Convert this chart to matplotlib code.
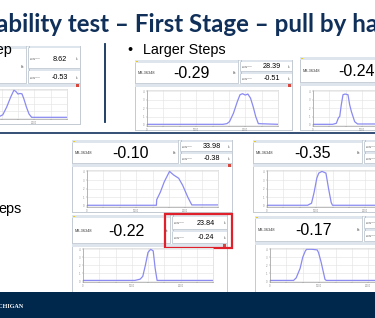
import matplotlib.pyplot as plt
from matplotlib.patches import Rectangle

# slide text
title = "Stability test – First Stage – pull by hand"
left_heading = "Step"
right_heading = "Larger Steps"
mid_heading = "eps"
footer = "MICHIGAN"
device = "M3-36348"

# readings shown in each captured panel (A..G)
main_vals = ["", "-0.29", "-0.24", "-0.10", "-0.35", "-0.22", "-0.17"]
box_top_vals = ["8.62", "28.39", "", "33.98", "", "23.84", ""]
box_bot_vals = ["-0.53", "-0.51", "", "-0.38", "", "-0.24", ""]

# force traces, x in % of plot width, y in % of plot height
trace_a_x = [0, 44, 48, 51, 54, 57, 59.5, 61, 62.6, 64, 65.6, 67, 69, 71, 73, 100]
trace_a_y = [2, 2, 5, 12, 40, 75, 100, 95, 86, 88, 87, 70, 40, 15, 3, 3]
trace_b_x = [0, 58, 61, 63, 66, 69, 71, 73, 75, 77, 79, 81, 83, 85, 100]
trace_b_y = [2, 2, 4, 10, 35, 70, 90, 93, 89, 92, 80, 55, 25, 4, 2]
trace_c_x = [0, 15, 17.8, 19.5, 20.4, 21.6, 22.9, 24.5, 26.7, 28, 29.3, 31.8, 34, 100]
trace_c_y = [2, 2, 5, 22, 25, 60, 90, 92, 90, 60, 40, 10, 3, 3]
trace_d_x = [0, 53, 53.2, 56, 59, 63, 66, 70, 73, 77, 80, 100]
trace_d_y = [2, 2, 18, 40, 70, 100, 90, 80, 60, 25, 3, 3]
trace_e_x = [0, 31, 34, 36, 38, 39.5, 42, 45, 47, 49, 50, 100]
trace_e_y = [2, 2, 8, 40, 80, 95, 100, 95, 50, 10, 2, 2]
trace_f_x = [0, 40, 44, 46, 48, 50, 52, 54, 55.5, 57, 100]
trace_f_y = [2, 2, 6, 15, 50, 90, 100, 95, 40, 2, 2]
trace_g_x = [0, 18, 20, 23, 25, 27, 28, 32, 36, 37, 39, 42, 43, 100]
trace_g_y = [2, 2, 10, 40, 75, 95, 100, 100, 98, 90, 60, 5, 2, 2]

traces = [(trace_a_x, trace_a_y), (trace_b_x, trace_b_y), (trace_c_x, trace_c_y),
          (trace_d_x, trace_d_y), (trace_e_x, trace_e_y), (trace_f_x, trace_f_y),
          (trace_g_x, trace_g_y)]

# panel layout in pixels: x0, y0, w, h, header height, main box width, box split
layout = [
    (-76, 46, 156, 78, 37, 102, 0.6),
    (135, 60, 157, 70, 23, 103, 0.5),
    (300, 57, 157, 73, 25, 103, 0.5),
    (72, 140, 160, 72, 23, 106, 0.5),
    (253, 140, 160, 72, 23, 109, 0.5),
    (72, 215, 155, 80, 28, 98, 0.5),
    (255, 216, 160, 80, 25, 107, 0.5),
]
# plot boxes (left, top, right, bottom) in pixels
plot_boxes = [
    (-64, 89, 67, 119),
    (147, 90, 278, 126),
    (313, 90, 444, 126),
    (87, 170, 218, 207),
    (267, 170, 398, 207),
    (83, 248, 213, 282),
    (270, 248, 401, 282),
]

W, H = 375, 318
NAVY = "#10305a"
EDGE = "#b3bcc6"
STRIP = "#dfe5ec"
LINE = "#8a8af2"

fig = plt.figure(figsize=(W / 100, H / 100), dpi=100)
bg = fig.add_axes([0, 0, 1, 1])
bg.set_xlim(0, W)
bg.set_ylim(H, 0)
bg.axis("off")


def rect(x, y, w, h, fc="white", ec=EDGE, lw=0.5, z=1):
    bg.add_patch(Rectangle((x, y), w, h, facecolor=fc, edgecolor=ec, lw=lw, zorder=z))


def draw_panel(i):
    x0, y0, w, h, hh, mw, split = layout[i]
    rect(x0, y0, w, h, ec="#c9d0d8")
    # main reading box
    rect(x0, y0, mw, hh)
    rect(x0, y0, mw, 2.5, fc=STRIP, ec="none")
    rect(x0 + 1, y0 + 0.5, 1.5, 1.5, fc="#f0cc1a", ec="none", z=2)
    bg.text(x0 + 3, y0 + hh * 0.56, device, fontsize=2.8, color="#333",
            va="center", family="Liberation Sans", zorder=3)
    if main_vals[i]:
        bg.text(x0 + mw * 0.55, y0 + hh * 0.58, main_vals[i], fontsize=11.5,
                ha="center", va="center", family="Liberation Sans", zorder=3)
    bg.text(x0 + mw - 4, y0 + hh * 0.56, "kt", fontsize=2.5, color="#333",
            ha="center", va="center", zorder=3)
    # two small boxes
    bx = x0 + mw + 1.5
    bw = w - mw - 1.5
    h1 = hh * split
    for j, (by, bh, val) in enumerate([(y0, h1 - 0.5, box_top_vals[i]),
                                       (y0 + h1 + 0.5, hh - h1 - 0.5, box_bot_vals[i])]):
        rect(bx, by, bw, bh)
        rect(bx, by, bw, 2.2, fc=STRIP, ec="none")
        rect(bx + 1, by + 0.4, 1.4, 1.4, fc="#f0cc1a", ec="none", z=2)
        bg.text(bx + 2, by + bh * 0.62, "Load cell\nvalue", fontsize=1.6,
                color="#555", va="center", linespacing=1.0, zorder=3)
        if val:
            bg.text(bx + bw * 0.62, by + bh * 0.62, val, fontsize=5.2,
                    ha="center", va="center", family="Liberation Sans", zorder=3)
        bg.text(bx + bw - 2.5, by + bh * 0.62, "kt", fontsize=1.8, color="#555",
                ha="center", va="center", zorder=3)
    # graph window
    gy = y0 + hh + 1
    rect(x0, gy, w, h - hh - 1)
    rect(x0, gy, w, 3, fc=STRIP, ec="none")
    rect(x0 + w - 4, gy + 0.3, 3.4, 2.4, fc="#d8463c", ec="none", z=2)

    l, t, r, b = plot_boxes[i]
    ax = fig.add_axes([l / W, 1 - b / H, (r - l) / W, (b - t) / H])
    xs, ys = traces[i]
    ax.plot(xs, ys, color=LINE, lw=0.9)
    ax.set_xlim(0, 100)
    ax.set_ylim(-3, 104)
    ax.set_xticks([0, 12.5, 25, 37.5, 50, 62.5, 75, 87.5, 100])
    ax.set_yticks([0, 25, 50, 75, 100])
    ax.set_xticklabels(["0", "", "", "1000", "", "", "2000", "", ""])
    ax.set_yticklabels(["0", "1", "2", "3", "4"])
    ax.tick_params(labelsize=1.8, colors="#888", length=0.8, width=0.3, pad=0.8)
    ax.grid(color="#e2e2e2", lw=0.4)
    for s in ax.spines.values():
        s.set_linewidth(0.4)
        s.set_color("#d0d0d0")
    ax.spines["left"].set_color("#8a8a8a")
    ax.spines["bottom"].set_color("#8a8a8a")


for i in range(len(layout)):
    draw_panel(i)

# title and headings
bg.text(-26, 32, title, fontsize=17.4, fontweight="bold", color=NAVY,
        family="Lato", va="baseline")
bg.text(12, 54, left_heading, fontsize=10.4, ha="right", va="baseline",
        family="Liberation Sans")
bg.text(127, 54, "•", fontsize=10.4, va="baseline", family="Liberation Sans")
bg.text(143, 54, right_heading, fontsize=10.4, va="baseline",
        family="Liberation Sans")
bg.text(22, 213, mid_heading, fontsize=10.4, ha="right", va="baseline",
        family="Liberation Sans")

# dividers
bg.plot([105, 105], [44, 122], color=NAVY, lw=1.3, zorder=4)
bg.plot([0, W], [133, 133], color="#24416a", lw=1.3, zorder=4)

# highlight box
rect(165, 214, 67, 34, fc="none", ec="#e0202a", lw=1.6, z=5)

# footer bar
rect(0, 292, W, 30, fc="#00274c", ec="none", z=6)
bg.text(24, 306, footer, fontsize=4.4, ha="right", va="center", color="white",
        family="Liberation Serif", fontweight="bold", zorder=7)

fig.savefig("out.png", dpi=100)
